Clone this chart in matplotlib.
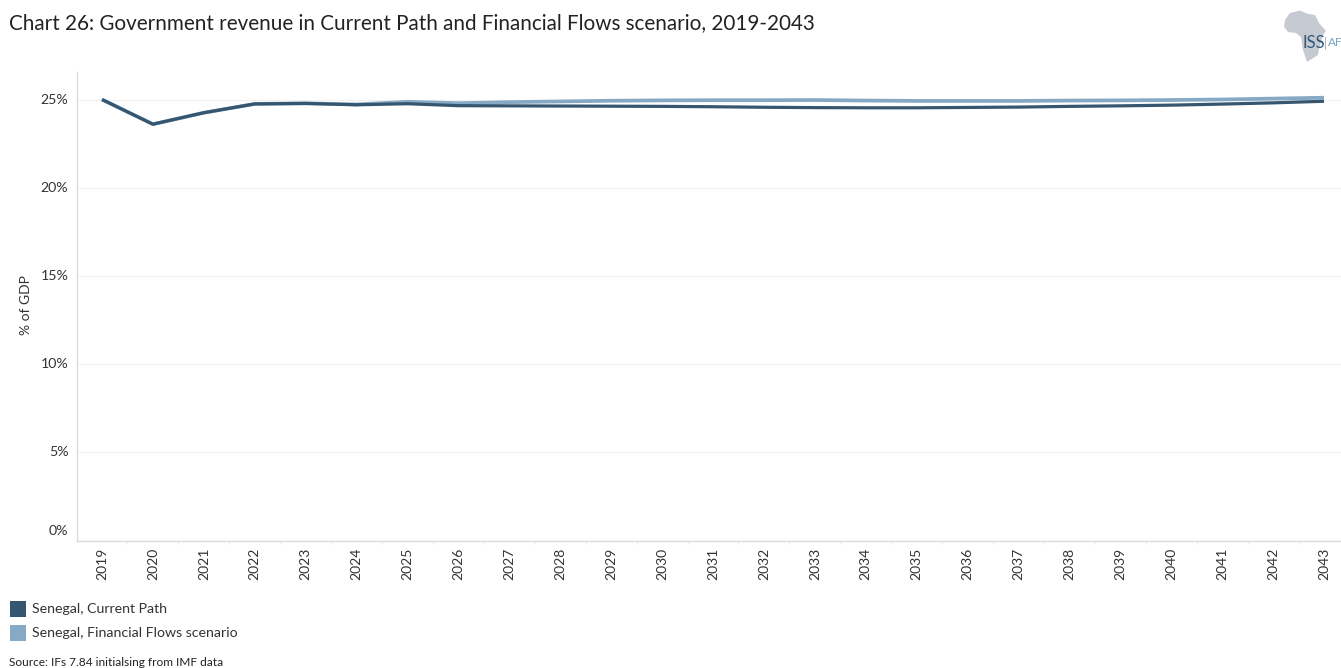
import matplotlib
matplotlib.use("Agg")
import matplotlib.pyplot as plt
from matplotlib.patches import Polygon, Rectangle

years = list(range(2019, 2044))
current_path = [25.0, 23.6, 24.25, 24.75, 24.78, 24.7, 24.76, 24.65, 24.64, 24.63,
                24.62, 24.61, 24.59, 24.56, 24.54, 24.53, 24.53, 24.55, 24.57, 24.61,
                24.64, 24.68, 24.74, 24.81, 24.9]
financial_flows = [25.0, 23.6, 24.25, 24.75, 24.78, 24.72, 24.87, 24.79, 24.85, 24.89,
                   24.93, 24.95, 24.96, 24.96, 24.97, 24.94, 24.92, 24.92, 24.92, 24.94,
                   24.95, 24.97, 25.0, 25.05, 25.1]
y_ticks = [0, 5, 10, 15, 20, 25]

DARK = "#36566f"
LIGHT = "#86a9c5"
TEXT = "#333333"
W, H = 1341, 668

plt.rcParams["font.family"] = ["Lato", "DejaVu Sans"]


def px(x, y):
    # pixel position (from the top left) to figure fraction
    return x / W, 1 - y / H


fig = plt.figure(figsize=(W / 100, H / 100), dpi=100)
left, top = px(77, 72)
_, bottom = px(0, 540.5)
ax = fig.add_axes([left, bottom, 1 - left, top - bottom])

ax.plot(years, financial_flows, color=LIGHT, lw=2.7, solid_capstyle="butt", zorder=3)
ax.plot(years, current_path, color=DARK, lw=2.3, solid_capstyle="butt", zorder=4)

ax.set_yticks(y_ticks)
ax.set_yticklabels([])
ax.grid(axis="y", color="#f0f0f0", lw=0.8)
ax.set_axisbelow(True)
ax.set_xticks(years)
ax.set_xticklabels(years, rotation=90, fontsize=10, color=TEXT)
ax.set_xticks([y - 0.5 for y in years] + [2043.5], minor=True)
ax.tick_params(axis="x", which="major", length=0, pad=5)
ax.tick_params(axis="x", which="minor", length=2, width=0.7, color="#ececec")
ax.tick_params(axis="y", length=0)

# limits go after the ticks, set_xticks widens the view otherwise
step = (1324 - 102) / 24
ax.set_xlim(2019 - 25 / step, 2019 + (1341 - 102) / step)
ax.set_ylim(0, (540.5 - 72) / 17.64)

for y in y_ticks:
    # the bottom label sits just above the axis line
    label_y = 531 if y == 0 else 540.5 - y * 17.64
    fig.text(*px(68.5, label_y), f"{y}%", ha="right", va="center",
             fontsize=10.2, color=TEXT)

for side in ["top", "right"]:
    ax.spines[side].set_visible(False)
for side in ["left", "bottom"]:
    ax.spines[side].set_color("#dcdcdc")
    ax.spines[side].set_linewidth(1.0)

fig.text(*px(25.5, 305), "% of GDP", rotation=90, ha="center", va="center",
         fontsize=10, color=TEXT)

fig.text(*px(9, 23), "Chart 26: Government revenue in Current Path and Financial Flows scenario, 2019-2043",
         ha="left", va="center", fontsize=14.82, color="#222222")

# legend keys and labels
for key_y, colour, name in [(600.5, DARK, "Senegal, Current Path"),
                            (624.5, LIGHT, "Senegal, Financial Flows scenario")]:
    fx, fy = px(10, key_y + 16.5)
    fig.add_artist(Rectangle((fx, fy), 16 / W, 16.5 / H, transform=fig.transFigure,
                             facecolor=colour, edgecolor="none"))
    fig.text(*px(32, key_y + 8.5), name, ha="left", va="center", fontsize=10.2, color=TEXT)

fig.text(*px(9, 662.5), "Source: IFs 7.84 initialsing from IMF data", ha="left", va="center",
         fontsize=8.6, color="#222222")

# ISS Africa logo
africa = [(1285, 20), (1290, 13), (1300, 10.5), (1308, 14), (1315, 15), (1319, 23), (1326, 31),
          (1323, 35), (1320, 45), (1318, 55), (1307, 62), (1303, 50), (1301, 37), (1296, 33),
          (1288, 32), (1284, 27)]
fig.add_artist(Polygon([px(*p) for p in africa], closed=True, transform=fig.transFigure,
                       facecolor="#c6cad2", edgecolor="none"))
fig.text(*px(1302, 43), "ISS", ha="left", va="center", fontsize=12, color="#2f567c")
fig.text(*px(1323.5, 43), "|", ha="left", va="center", fontsize=9, color="#8fb6cf")
fig.text(*px(1328, 43), "AF", ha="left", va="center", fontsize=8.4, color="#7da3c0")

fig.savefig("out.png", dpi=100)
